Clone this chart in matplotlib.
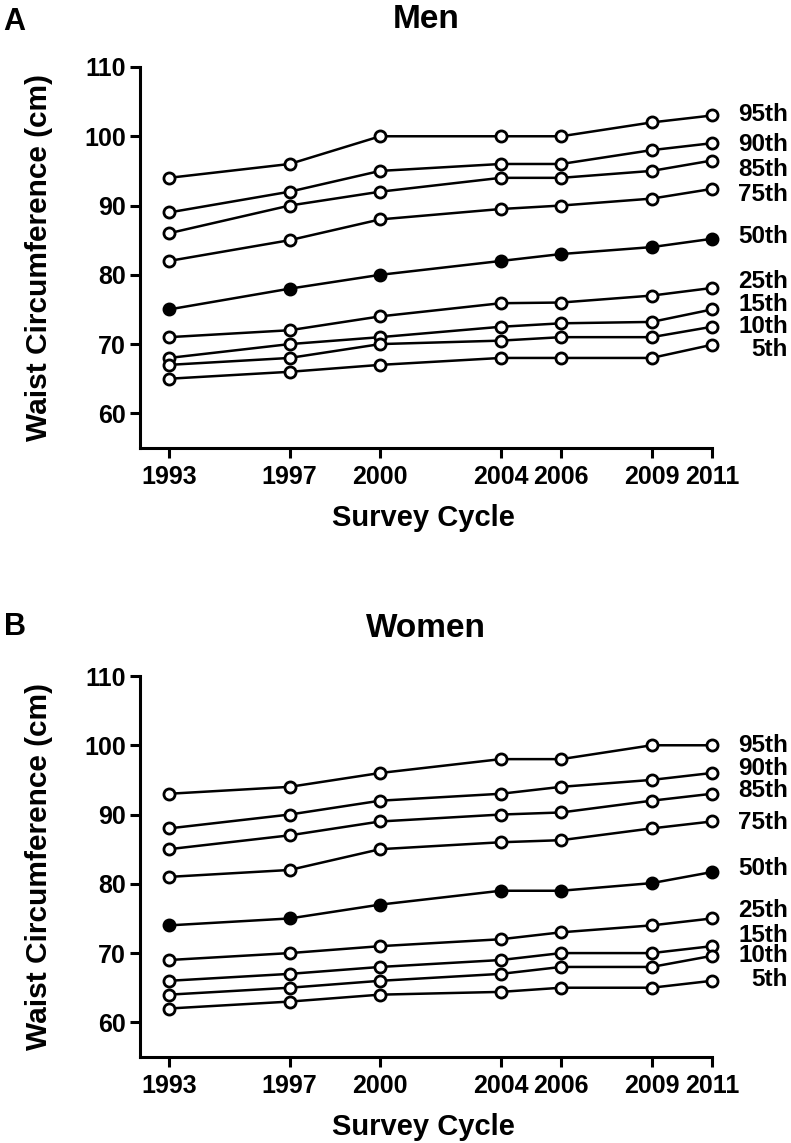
import matplotlib
matplotlib.use("Agg")
import matplotlib.pyplot as plt
from matplotlib.transforms import blended_transform_factory

plt.rcParams['font.family'] = ['Liberation Sans', 'DejaVu Sans']
plt.rcParams['font.weight'] = 'bold'

years = [1993, 1997, 2000, 2004, 2006, 2009, 2011]
pct_names = ["95th", "90th", "85th", "75th", "50th", "25th", "15th", "10th", "5th"]

# Men waist circumference (cm) by percentile
men_95 = [94, 96, 100, 100, 100, 102, 103]
men_90 = [89, 92, 95, 96, 96, 98, 99]
men_85 = [86, 90, 92, 94, 94, 95, 96.5]
men_75 = [82, 85, 88, 89.5, 90, 91, 92.4]
men_50 = [75, 78, 80, 82, 83, 84, 85.2]
men_25 = [71, 72, 74, 75.9, 76, 77, 78.1]
men_15 = [68, 70, 71, 72.5, 73, 73.2, 75]
men_10 = [67, 68, 70, 70.5, 71, 71, 72.5]
men_5 = [65, 66, 67, 68, 68, 68, 69.9]

# Women waist circumference (cm) by percentile
women_95 = [93, 94, 96, 98, 98, 100, 100]
women_90 = [88, 90, 92, 93, 94, 95, 96]
women_85 = [85, 87, 89, 90, 90.3, 92, 93]
women_75 = [81, 82, 85, 86, 86.3, 88, 89]
women_50 = [74, 75, 77, 79, 79, 80.1, 81.7]
women_25 = [69, 70, 71, 72, 73, 74, 75]
women_15 = [66, 67, 68, 69, 70, 70, 71]
women_10 = [64, 65, 66, 67, 68, 68, 69.6]
women_5 = [62, 63, 64, 64.4, 65, 65, 66]

men = [men_95, men_90, men_85, men_75, men_50, men_25, men_15, men_10, men_5]
women = [women_95, women_90, women_85, women_75, women_50, women_25, women_15, women_10, women_5]

# vertical position of the right-hand percentile labels
men_label_y = [103.1, 98.8, 95.2, 91.6, 85.5, 79.0, 75.7, 72.5, 69.2]
women_label_y = [100.0, 96.7, 93.4, 88.9, 82.2, 76.2, 72.6, 69.7, 66.2]

W, H = 791, 1143
fig = plt.figure(figsize=(W / 100, H / 100), dpi=100)

left = 140 / W
width = (712 - 140) / W
height = (448 - 67) / H
ax_men = fig.add_axes([left, 1 - 448 / H, width, height])
ax_women = fig.add_axes([left, 1 - 1057 / H, width, height])


def draw(ax, series, label_y, title):
    for name, vals in zip(pct_names, series):
        face = 'black' if name == "50th" else 'white'
        ax.plot(years, vals, color='black', lw=1.8, marker='o', ms=8,
                mfc=face, mec='black', mew=2, zorder=3, clip_on=False)
    ax.set_xlim(1992.04, 2011)
    ax.set_ylim(55, 110)
    ax.set_xticks(years)
    ax.set_yticks([60, 70, 80, 90, 100, 110])
    for s in ['top', 'right']:
        ax.spines[s].set_visible(False)
    for s in ['left', 'bottom']:
        ax.spines[s].set_linewidth(2.2)
    ax.tick_params(axis='both', width=2.2, length=7, labelsize=18)
    ax.tick_params(axis='x', pad=5)
    ax.tick_params(axis='y', pad=3)
    for lab in ax.get_xticklabels() + ax.get_yticklabels():
        lab.set_fontweight('bold')
    ax.set_ylabel("Waist Circumference (cm)", fontsize=21.5, fontweight='bold')
    ax.yaxis.set_label_coords(-0.152, 0.5)
    ax.set_xlabel("Survey Cycle", fontsize=21, fontweight='bold')
    ax.xaxis.set_label_coords(0.495, -0.148)
    ax.set_title(title, fontsize=24, fontweight='bold', pad=28)
    tr = blended_transform_factory(fig.transFigure, ax.transData)
    for name, y in zip(pct_names, label_y):
        ax.text(788 / W, y, name, transform=tr, ha='right', va='center',
                fontsize=17.5, fontweight='bold')


draw(ax_men, men, men_label_y, "Men")
draw(ax_women, women, women_label_y, "Women")

fig.text(14 / W, 1 - 22 / H, "A", fontsize=22, fontweight='bold', ha='center', va='center')
fig.text(15 / W, 1 - 627 / H, "B", fontsize=22, fontweight='bold', ha='center', va='center')

fig.savefig("out.png", dpi=100)
